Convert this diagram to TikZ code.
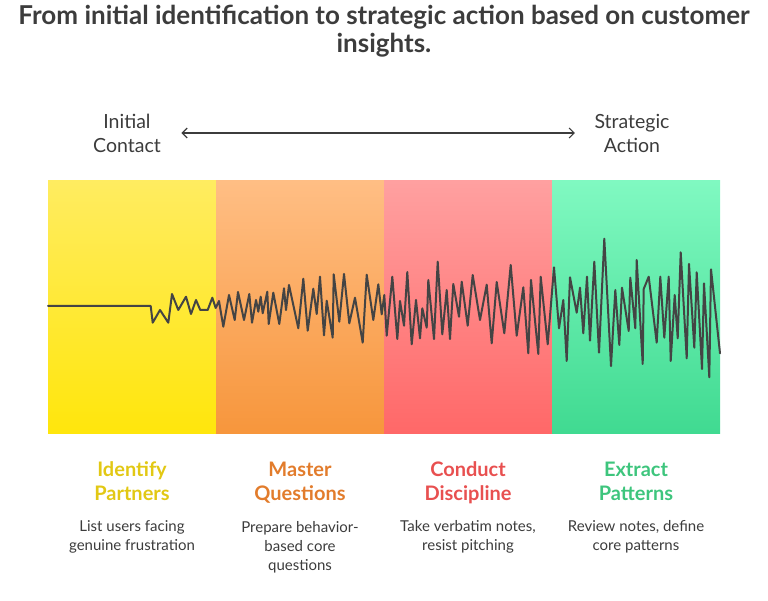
\documentclass[tikz,border=0pt]{standalone}
\usepackage{fontspec}
\setmainfont{Lato}
\usetikzlibrary{arrows.meta}
\definecolor{inkgray}{HTML}{3C3C3C}
\definecolor{wavegray}{HTML}{444444}
\definecolor{ylwtop}{RGB}{255,236,96}
\definecolor{ylwbot}{RGB}{255,230,12}
\definecolor{orgtop}{RGB}{255,190,132}
\definecolor{orgbot}{RGB}{247,150,60}
\definecolor{redtop}{RGB}{255,160,160}
\definecolor{redbot}{RGB}{255,104,104}
\definecolor{grntop}{RGB}{128,249,193}
\definecolor{grnbot}{RGB}{64,218,145}
\definecolor{ylwtext}{RGB}{226,200,20}
\definecolor{orgtext}{RGB}{226,124,44}
\definecolor{redtext}{RGB}{232,80,80}
\definecolor{grntext}{RGB}{62,197,125}
\tikzset{
  endlabel/.style={align=center,text=inkgray,font=\fontsize{19.5}{24}\selectfont},
  stagetitle/.style={align=center,anchor=base,font=\fontsize{20}{24}\selectfont\bfseries},
  stagedesc/.style={align=center,anchor=base,text=inkgray,font=\fontsize{15}{19}\selectfont},
  wave/.style={wavegray,line width=2pt}
}
\begin{document}
\begin{tikzpicture}[x=1pt,y=-1pt,line join=round,line cap=round,>={Straight Barb[length=5pt,width=10pt]}]
  \useasboundingbox (0,0) rectangle (768,601);
  % title
  \node[align=center,text=inkgray,font=\fontsize{26}{28}\selectfont\bfseries] (title) at (384,31)
    {From initial identification to strategic action based on customer\\insights.};
  % scale from start to end
  \node[endlabel] (initial) at (127,133) {Initial\\Contact};
  \node[endlabel] (strategic) at (632,133) {Strategic\\Action};
  \draw[<->,inkgray,line width=1.2pt,shorten <=17pt,shorten >=16pt] (initial) -- (strategic);
  % coloured stages
  \foreach \i/\ctop/\cbot in {0/ylwtop/ylwbot,1/orgtop/orgbot,2/redtop/redbot,3/grntop/grnbot}
    \shade[top color=\ctop,bottom color=\cbot] (48+168*\i,181) rectangle ++(168,252);
  % signal
  \draw[wave] plot coordinates {(48,306) (150.7,306) (152.7,322.7) (160,310) (168.3,322.7) (172,294)
    (178.3,310) (186,296.7) (191,314) (196,300) (200.3,310) (207.7,310) (212.3,297.7) (215.7,308)
    (219,301) (223.3,326.7) (229,295) (234.7,320) (238,292) (244,320) (249.3,294) (252,322.7)
    (256,300) (258.3,311.7) (260.7,296.7) (262.7,313.3) (267.3,291.7) (268.7,324) (273.3,292.7)
    (279.3,324) (284,288.3) (286,310) (289,285) (298.3,328.3) (303.3,278.7) (307.7,330.7)
    (313.3,288.7) (316.7,314) (320,276.7) (324,335.3) (326.7,300.7) (332.7,337.7) (333.7,274.3)
    (339.3,321.7) (344,274) (349.3,323.3) (355,297.7) (362.7,342.7) (366.7,274.7) (373.3,320)
    (378.3,284.3) (381.7,314.3) (384.3,295) (386.7,335.7) (392.3,276.7) (397.3,339) (400,301)
    (404,325.7) (407.3,272) (411.7,344.3) (416,300) (420,338.3) (422.3,308.3) (426.7,327.7)
    (428.3,280) (434,339) (437.7,261.7) (442.3,334.3) (446.7,290) (450,339) (453.3,284)
    (459,316.7) (461.7,281.7) (467.7,325.7) (472.7,275) (480,320) (486.7,284.7) (491.7,343.3)
    (496.7,282) (504.3,333.3) (510.7,265) (516.7,335.7) (523.3,287.3) (528.3,353.3) (531,280)
    (538.3,354) (540.7,276.7) (547.7,344.3) (554,267.3) (559,328.3) (563.3,300) (566.7,361)
    (570,277.3) (576.7,312.7) (580,287.7) (583.3,333.3) (587,276.7) (590,340.7) (594.3,261.7)
    (599,352.7) (604.3,238.7) (611,366) (615.3,290) (619.3,345) (622,287.7) (628.7,331)
    (630.3,277.7) (635.3,328.3) (636.7,260) (642.7,364) (643.7,289) (648.7,276.7) (656.7,342.7)
    (660.3,276.7) (664.3,337.7) (668.7,276.7) (670.7,361) (674.7,295) (677.7,338.3) (680.7,252.3)
    (686.7,358.3) (689,264) (694.3,347.7) (696.7,272.3) (702,369) (704,283.3) (709.3,377.3)
    (711,269.3) (720,353.3)};
  % stage names
  \node[stagetitle,text=ylwtext] (identify) at (132,500) {Identify\\Partners};
  \node[stagetitle,text=orgtext] (master) at (300,500) {Master\\Questions};
  \node[stagetitle,text=redtext] (conduct) at (468,500) {Conduct\\Discipline};
  \node[stagetitle,text=grntext] (extract) at (636,500) {Extract\\Patterns};
  % stage notes
  \node[stagedesc] (identifynote) at (132,550) {List users facing\\genuine frustration};
  \node[stagedesc] (masternote) at (300,570) {Prepare behavior-\\based core\\questions};
  \node[stagedesc] (conductnote) at (468,550) {Take verbatim notes,\\resist pitching};
  \node[stagedesc] (extractnote) at (636,550) {Review notes, define\\core patterns};
\end{tikzpicture}
\end{document}
